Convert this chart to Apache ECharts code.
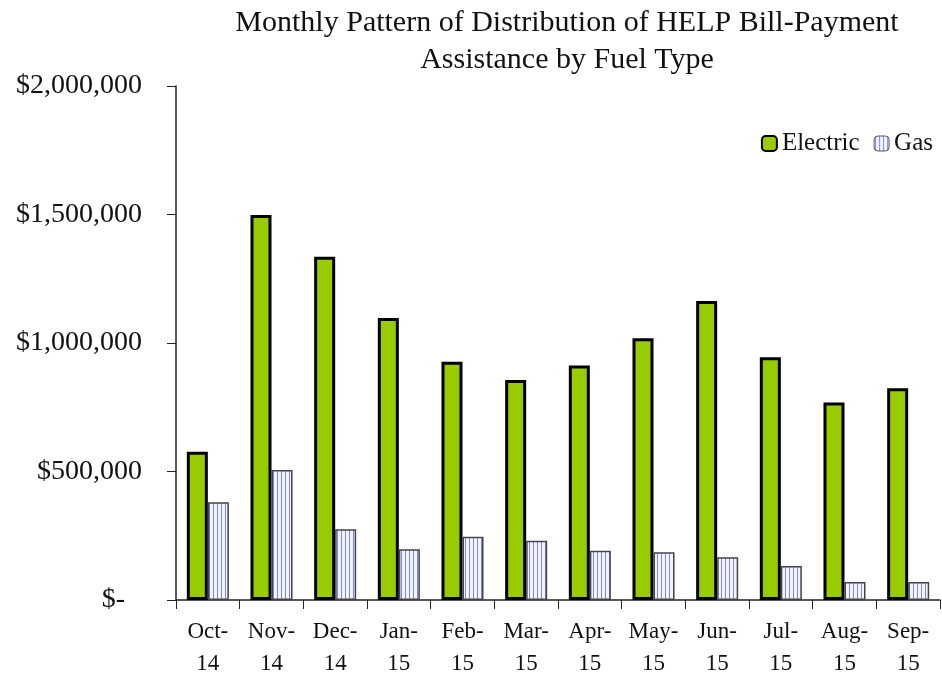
<!DOCTYPE html>
<html>
<head>
<meta charset="utf-8">
<script src="https://cdn.jsdelivr.net/npm/echarts@6/dist/echarts.min.js"></script>
<style>
  html, body { margin: 0; padding: 0; background: #fff; }
  #chart { width: 942px; height: 675px; }
</style>
</head>
<body>
<div id="chart"></div>
<script>
const months = ['Oct-\n14', 'Nov-\n14', 'Dec-\n14', 'Jan-\n15', 'Feb-\n15', 'Mar-\n15',
  'Apr-\n15', 'May-\n15', 'Jun-\n15', 'Jul-\n15', 'Aug-\n15', 'Sep-\n15']
const electric = [577000, 1498000, 1336000, 1097000, 927000, 856000,
  912000, 1018000, 1163000, 945000, 768000, 824000]
const gas = [380000, 506000, 275000, 197000, 246000, 231000,
  192000, 186000, 166000, 132000, 70000, 70000]
const yTicks = [0, 500000, 1000000, 1500000, 2000000]

const serif = '"Liberation Serif", "DejaVu Serif", serif'

// white fill with thin blue vertical stripes for the gas bars
function stripes() {
  const c = document.createElement('canvas')
  c.width = 4
  c.height = 4
  const ctx = c.getContext('2d')
  ctx.fillStyle = '#f4f4ff'
  ctx.fillRect(0, 0, 4, 4)
  ctx.fillStyle = '#7c86ff'
  ctx.fillRect(1, 0, 1, 4)
  return c
}
const gasFill = { image: stripes(), repeat: 'repeat' }

function money(v) {
  if (v === 0) return '{z|$-}'
  return '$' + v.toLocaleString('en-US')
}

const chart = echarts.init(document.getElementById('chart'))
chart.setOption({
  animation: false,
  title: {
    text: 'Monthly Pattern of Distribution of HELP Bill-Payment\nAssistance by Fuel Type',
    left: 562,
    top: 0,
    textAlign: 'center',
    textStyle: { fontFamily: serif, fontWeight: 'normal', fontSize: 30, lineHeight: 37, color: '#111' }
  },
  legend: {
    right: 4,
    top: 126,
    itemWidth: 15,
    itemHeight: 15,
    itemGap: 14,
    textStyle: { fontFamily: serif, fontSize: 25, color: '#111' },
    data: [
      { name: 'Electric', itemStyle: { color: '#99cc00', borderColor: '#000', borderWidth: 2 } },
      { name: 'Gas', itemStyle: { color: gasFill, borderColor: '#555', borderWidth: 1 } }
    ]
  },
  grid: { left: 176, right: 2, top: 86, bottom: 75, outerBoundsMode: 'none' },
  xAxis: {
    type: 'category',
    data: months,
    axisLine: { lineStyle: { color: '#222', width: 1.5 } },
    axisTick: { show: true, length: 9, lineStyle: { color: '#222' } },
    axisLabel: { fontFamily: serif, fontSize: 23, lineHeight: 32, color: '#111', margin: 16, interval: 0 }
  },
  yAxis: {
    type: 'value',
    min: yTicks[0],
    max: yTicks[yTicks.length - 1],
    interval: yTicks[1] - yTicks[0],
    splitLine: { show: false },
    axisLine: { show: true, lineStyle: { color: '#222', width: 1.5 } },
    axisTick: { show: true, length: 9, lineStyle: { color: '#222' } },
    axisLabel: {
      fontFamily: serif, fontSize: 28, color: '#111', margin: 34,
      formatter: money,
      rich: { z: { fontFamily: serif, fontSize: 28, color: '#111', padding: [0, 17, 0, 0] } }
    }
  },
  series: [
    {
      name: 'Electric',
      type: 'bar',
      data: electric,
      barGap: '0%',
      barCategoryGap: '34%',
      itemStyle: { color: '#99cc00', borderColor: '#000', borderWidth: 3 }
    },
    {
      name: 'Gas',
      type: 'bar',
      data: gas,
      itemStyle: { color: gasFill, borderColor: '#444', borderWidth: 1.5 }
    }
  ]
})
</script>
</body>
</html>
